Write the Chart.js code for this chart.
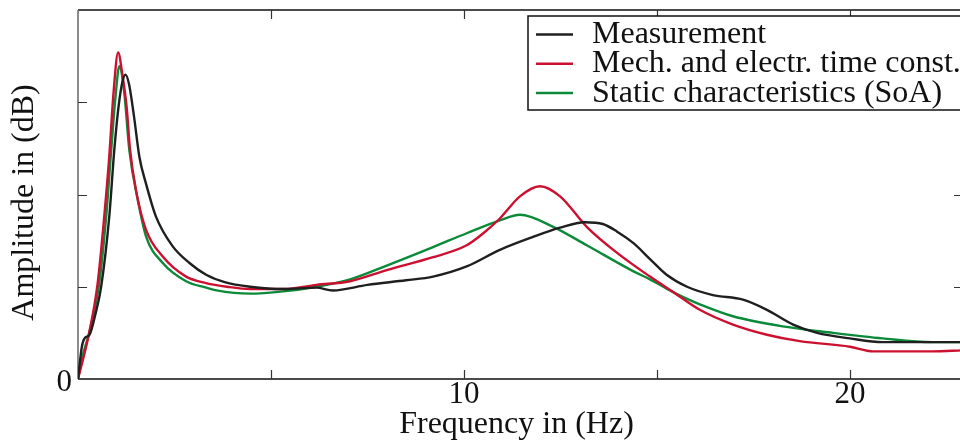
<!DOCTYPE html>
<html>
<head>
<meta charset="utf-8">
<script src="https://cdn.jsdelivr.net/npm/chart.js@4"></script>
<style>
  html, body { margin: 0; padding: 0; background: #fff; overflow: hidden; }
  #wrap { position: relative; width: 966px; height: 441px; }
</style>
</head>
<body>
<div id="wrap"><canvas id="freqChart"></canvas></div>
<script>
// frequency (Hz) / amplitude readings, one pair of arrays per curve
const measFreq = [0, 0.1, 0.17, 0.3, 0.45, 0.6, 0.81, 0.94, 1.05, 1.15, 1.23, 1.32, 1.45, 1.59, 1.76, 2.02, 2.45, 2.88, 3.32, 3.8, 4.46, 5.32, 6.18, 6.6, 7.5, 8.5, 9.2, 10.07, 10.93, 11.79, 12.49, 13.13, 13.6, 13.96, 14.4, 14.82, 15.25, 15.78, 16.45, 17.23, 17.85, 18.53, 19.15, 20.0, 20.85, 22.15, 22.9];
const measAmp  = [0, 0.35, 0.44, 0.48, 0.7, 1.0, 1.76, 2.48, 2.95, 3.22, 3.30, 3.2, 2.85, 2.41, 2.12, 1.76, 1.44, 1.26, 1.13, 1.05, 1.0, 0.975, 0.99, 0.96, 1.02, 1.07, 1.11, 1.22, 1.40, 1.54, 1.64, 1.70, 1.68, 1.60, 1.47, 1.30, 1.13, 1.0, 0.91, 0.86, 0.75, 0.59, 0.50, 0.44, 0.40, 0.40, 0.40];

const mechFreq = [0, 0.29, 0.51, 0.68, 0.81, 0.92, 1.04, 1.15, 1.26, 1.35, 1.5, 1.76, 2.19, 2.8, 3.32, 3.86, 4.46, 5.32, 6.18, 7.05, 8.0, 9.2, 10.07, 10.5, 10.93, 11.45, 11.97, 12.49, 13.18, 13.96, 14.82, 15.5, 16.11, 16.97, 17.85, 18.7, 20.0, 20.6, 22.15, 22.9];
const mechAmp  = [0, 0.5, 1.04, 1.76, 2.41, 3.1, 3.54, 3.3, 2.95, 2.48, 2.05, 1.62, 1.33, 1.11, 1.04, 1.0, 0.975, 0.975, 1.02, 1.06, 1.18, 1.32, 1.45, 1.58, 1.74, 1.98, 2.09, 1.98, 1.65, 1.37, 1.11, 0.92, 0.75, 0.59, 0.48, 0.41, 0.35, 0.30, 0.30, 0.31];

const staticFreq = [0, 0.12, 0.29, 0.55, 0.73, 0.86, 0.97, 1.07, 1.2, 1.33, 1.55, 1.76, 2.19, 2.8, 3.32, 3.59, 4.46, 5.32, 6.18, 7.05, 8.0, 9.2, 10.07, 10.93, 11.45, 12.31, 13.18, 14.38, 14.82, 15.25, 15.67, 16.11, 16.97, 18.26, 19.56, 20.85, 22.15, 22.9];
const staticAmp  = [0, 0.25, 0.5, 1.04, 1.76, 2.48, 3.05, 3.39, 3.1, 2.48, 1.94, 1.55, 1.26, 1.06, 0.99, 0.96, 0.925, 0.95, 1.0, 1.08, 1.23, 1.43, 1.58, 1.72, 1.78, 1.65, 1.45, 1.17, 1.08, 0.98, 0.89, 0.81, 0.68, 0.57, 0.50, 0.44, 0.40, 0.40];

const seriesLabels = ['Measurement', 'Mech. and electr. time const.', 'Static characteristics (SoA)'];
const seriesColors = ['#1f1f1f', '#cc1030', '#0b8a3a'];
const xTickLabels = { 10: '10', 20: '20' };
const yTickLabels = { 0: '0' };

const serif = '"Liberation Serif", "Times New Roman", serif';

function toPoints(xs, ys) {
  return xs.map((x, i) => ({ x: x, y: ys[i] }));
}

// box round the plot, with ticks pointing inwards on all four sides
const frameTicks = {
  id: 'frameTicks',
  beforeDatasetsDraw(chart) {
    const { ctx, chartArea: a, scales: { x, y } } = chart;
    const len = 9;
    ctx.save();
    ctx.lineWidth = 1.5;
    ctx.strokeStyle = '#111';
    ctx.beginPath();
    ctx.moveTo(a.left, a.bottom);
    ctx.lineTo(a.right, a.bottom);
    ctx.lineTo(a.right, a.top);
    ctx.lineTo(a.left, a.top);
    ctx.stroke();
    ctx.strokeStyle = '#666';
    ctx.beginPath();
    ctx.moveTo(a.left, a.top);
    ctx.lineTo(a.left, a.bottom);
    ctx.stroke();

    ctx.lineWidth = 1.2;
    ctx.strokeStyle = '#333';
    ctx.beginPath();
    x.ticks.forEach(t => {
      if (t.value === 0) return;
      const px = Math.round(x.getPixelForValue(t.value)) + 0.5;
      ctx.moveTo(px, a.bottom); ctx.lineTo(px, a.bottom - len);
      ctx.moveTo(px, a.top); ctx.lineTo(px, a.top + len);
    });
    y.ticks.forEach(t => {
      if (t.value === 0 || t.value === y.max) return;
      const py = Math.round(y.getPixelForValue(t.value)) + 0.5;
      ctx.moveTo(a.left, py); ctx.lineTo(a.left + len, py);
      ctx.moveTo(a.right, py); ctx.lineTo(a.right - len, py);
    });
    ctx.stroke();
    ctx.restore();
  }
};

// boxed legend in the upper right corner, drawn over the plot
const boxLegend = {
  id: 'boxLegend',
  afterDraw(chart) {
    const { ctx, chartArea: a } = chart;
    const left = 528, top = a.top + 6, rowH = 29.3;
    ctx.save();
    ctx.fillStyle = '#fff';
    ctx.fillRect(left, top, a.right + 10 - left, 94);
    ctx.lineWidth = 1.5;
    ctx.strokeStyle = '#111';
    ctx.strokeRect(left, top, a.right + 10 - left, 94);
    ctx.font = '32px ' + serif;
    ctx.textBaseline = 'middle';
    ctx.fillStyle = '#111';
    chart.data.datasets.forEach((ds, i) => {
      const cy = top + 18.5 + i * rowH;
      ctx.strokeStyle = ds.borderColor;
      ctx.lineWidth = 2.5;
      ctx.beginPath();
      ctx.moveTo(left + 8, cy);
      ctx.lineTo(left + 45, cy);
      ctx.stroke();
      ctx.fillText(ds.label, left + 64, cy);
    });
    ctx.restore();
  }
};

const ctx = document.getElementById('freqChart').getContext('2d');

const chart = new Chart(ctx, {
  type: 'line',
  data: {
    datasets: [
      { label: seriesLabels[0], data: toPoints(measFreq, measAmp), borderColor: seriesColors[0] },
      { label: seriesLabels[1], data: toPoints(mechFreq, mechAmp), borderColor: seriesColors[1] },
      { label: seriesLabels[2], data: toPoints(staticFreq, staticAmp), borderColor: seriesColors[2] }
    ]
  },
  options: {
    responsive: true,
    maintainAspectRatio: false,
    animation: false,
    layout: { padding: { top: 10, right: 3, bottom: 0, left: 0 } },
    datasets: {
      line: {
        borderWidth: 2.4,
        pointRadius: 0,
        fill: false,
        cubicInterpolationMode: 'monotone'
      }
    },
    plugins: {
      legend: { display: false },
      tooltip: { enabled: false }
    },
    scales: {
      x: {
        type: 'linear',
        min: 0,
        max: 22.93,
        grid: { display: false, drawTicks: false },
        border: { display: false },
        ticks: {
          stepSize: 5,
          includeBounds: false,
          maxRotation: 0,
          padding: 0,
          color: '#111',
          font: { family: serif, size: 31, lineHeight: 1 },
          callback: v => xTickLabels[v] || ''
        },
        title: {
          display: true,
          text: 'Frequency in (Hz) ',
          color: '#111',
          padding: 0,
          font: { family: serif, size: 32, lineHeight: 1 }
        },
        afterFit: s => {
          s.height = 62;
          s.paddingLeft = 0;
          s.paddingRight = 0;
        }
      },
      y: {
        min: 0,
        max: 4,
        grid: { display: false, drawTicks: false },
        border: { display: false },
        ticks: {
          stepSize: 1,
          padding: 6,
          labelOffset: 4,
          color: '#111',
          font: { family: serif, size: 31, lineHeight: 1 },
          callback: v => yTickLabels[v] || ''
        },
        title: {
          display: true,
          text: 'Amplitude in (dB)  ',
          color: '#111',
          padding: { top: 9, bottom: 0 },
          font: { family: serif, size: 32, lineHeight: 1 }
        },
        afterFit: s => {
          s.width = 78;
          s.paddingTop = 0;
          s.paddingBottom = 0;
        }
      }
    }
  },
  plugins: [frameTicks, boxLegend]
});
</script>
</body>
</html>
